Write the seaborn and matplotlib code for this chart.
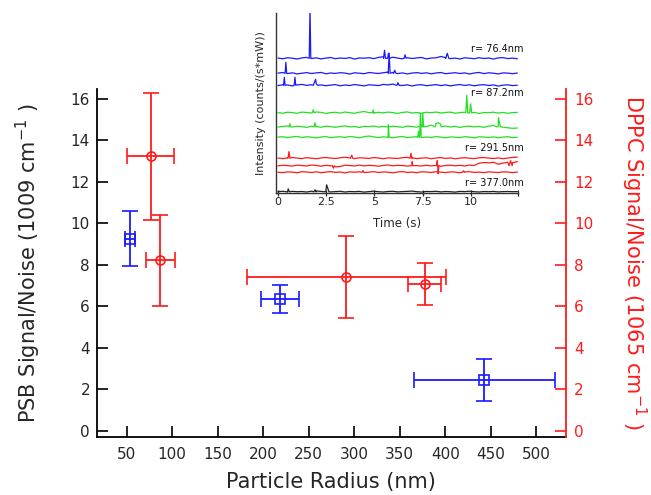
import numpy as np
import pandas as pd
import matplotlib
matplotlib.use("Agg")
import matplotlib.pyplot as plt
import seaborn as sns

# ---------------- main plot data ----------------
psb_radius = [53.7, 218.7, 443.0]
psb_radius_err = [5.0, 21.0, 77.5]
psb_sn = [9.25, 6.34, 2.43]
psb_sn_err = [1.33, 0.68, 1.01]

dppc_radius = [76.3, 87.0, 291.2, 377.2]
dppc_radius_err = [26.0, 16.0, 109.0, 18.0]
dppc_sn = [13.22, 8.20, 7.40, 7.06]
dppc_sn_err = [3.07, 2.18, 1.97, 1.00]

x_ticks = [50, 100, 150, 200, 250, 300, 350, 400, 450, 500]
y_ticks = [0, 2, 4, 6, 8, 10, 12, 14, 16]

# ---------------- inset trace data ----------------
trace_names = ["b1", "b2", "b3", "g1", "g2", "g3", "r1", "r2", "r3", "k"]
trace_colors = ["#1a1aff", "#1a1aff", "#1a1aff", "#22e022", "#22e022", "#22e022",
                "#ff1a1a", "#ff1a1a", "#ff1a1a", "#222222"]
trace_offsets = [135.0, 120.0, 108.0, 80.5, 66.5, 56.0, 35.0, 27.6, 21.0, 1.5]

noise_b1 = [0.3, -0.5, 0.6, 0.1, -0.7, 0.4, 0.9, -0.2, 0.5, -0.6, 0.2, 0.8, -0.4, 0.3, -0.1, 0.7, -0.8, 0.4,
            0.1, 0.6, -0.3, 0.9, 1.6, 2.2, 1.1, 0.2, -0.5, 0.6, -0.2, 0.4, 0.8, -0.6, 0.3, 0.5, 1.8, 0.7,
            -0.3, 0.2, -0.7, 0.5, 0.1, -0.4, 0.6, -0.2, 0.3, -0.8, 0.4, 0.7, -0.3, 0.2, -0.5]
noise_b2 = [0.2, 0.8, -0.3, 0.5, -0.6, 0.1, 0.7, -0.2, 0.4, 0.9, -0.5, 0.3, -0.1, 0.6, 0.2, -0.7, 0.5, 0.1,
            -0.4, 0.8, 0.3, -0.2, 0.6, 1.2, 0.9, -0.3, 0.4, -0.6, 0.2, 0.7, -0.1, 0.5, -0.5, 0.3, 0.8, -0.4,
            0.1, 0.6, -0.2, 0.4, -0.7, 0.3, 0.9, -0.3, 0.5, 0.1, -0.6, 0.4, 0.2, -0.4, 0.3]
noise_b3 = [-0.2, 0.5, 0.3, -0.6, 0.4, 0.9, -0.1, 0.6, 1.5, 0.4, -0.4, 0.2, 0.7, -0.5, 0.3, -0.2, 0.8, 0.1,
            -0.6, 0.5, 0.2, -0.3, 0.9, 0.4, 1.3, 0.8, -0.2, 0.5, -0.7, 0.3, 0.6, -0.4, 0.1, 0.7, -0.3, 0.4,
            -0.6, 0.2, 0.8, -0.1, 0.5, -0.5, 0.3, 0.6, -0.2, 0.4, -0.8, 0.2, 0.5, -0.3, 0.1]
noise_g1 = [0.1, -0.4, 0.6, 0.2, -0.5, 0.7, 0.3, -0.2, 0.9, 0.4, -0.6, 0.2, 0.5, -0.3, 0.8, 0.1, -0.5, 0.6,
            1.2, 0.3, -0.4, 0.5, -0.1, 0.7, 0.2, -0.6, 0.4, 0.9, -0.2, 0.3, -0.5, 0.6, 0.1, 0.8, -0.3, 0.4,
            0.7, -0.4, 0.2, 0.6, -0.2, 0.5, -0.7, 0.3, 0.1, 0.6, -0.3, 0.4, -0.5, 0.2, 0.4]
noise_g2 = [-0.3, 0.4, 0.8, -0.2, 0.5, 0.1, -0.6, 0.7, 0.3, -0.4, 0.6, 0.2, -0.5, 0.4, 0.9, -0.1, 0.3, -0.7,
            0.5, 0.2, 0.8, -0.3, 0.4, -0.2, 0.6, 0.1, -0.5, 0.7, 0.3, -0.4, 0.9, 0.2, 1.6, 3.2, 2.6, 0.8,
            -0.2, 0.5, -0.6, 0.3, 0.7, -0.1, 0.4, -0.5, 0.6, 1.4, 0.5, -0.3, -1.0, -1.5, -1.2]
noise_g3 = [0.2, 0.6, -0.3, 0.4, 0.9, -0.2, 0.5, 0.1, -0.6, 0.3, 0.7, -0.4, 0.2, 0.5, -0.1, 0.8, 0.3, -0.5,
            0.6, 1.3, 0.4, -0.2, 0.5, 0.1, -0.6, 0.4, 0.8, -0.3, 0.2, 0.6, -0.4, 0.3, -0.1, 0.7, 0.2, -0.5,
            0.4, 0.1, -0.3, 0.6, 0.2, -0.6, 0.5, 0.3, -0.2, 0.4, -0.4, 0.2, 0.6, -0.3, 0.1]
noise_r1 = [0.3, -0.4, 0.5, 0.9, 0.2, -0.3, 0.6, 0.1, -0.5, 0.4, 0.8, 0.2, -0.2, 0.5, 1.1, 0.3, -0.4, 0.6,
            0.2, -0.1, 0.7, 0.3, -0.5, 0.4, 0.1, -0.2, 0.6, 1.0, 0.4, -0.3, 0.2, 0.5, -0.4, 0.3, 0.7, -0.1,
            0.4, -0.5, 0.2, 0.6, 0.1, -0.3, 0.5, 0.8, 0.2, -0.2, 0.4, -0.4, 0.3, 0.9, 1.2]
noise_r2 = [-0.2, 0.5, 0.1, -0.4, 0.6, 0.2, -0.3, 0.7, 0.3, -0.5, 0.4, -0.1, -1.2, -0.8, 0.5, 0.2, -0.3, 0.6,
            -0.2, 0.4, 0.1, -0.5, 0.3, 0.7, -0.1, 0.4, 0.2, -0.4, 0.6, 0.1, -0.3, 0.5, -0.2, 0.3, -0.6, 0.2,
            0.5, -0.1, 0.4, -0.3, 0.6, 0.2, 2.5, 3.2, 2.8, 3.5, 1.5, 2.6, 3.4, 3.0, 4.2]
noise_r3 = [0.1, -0.3, 0.4, 0.2, -0.5, 0.6, 0.3, -0.2, 0.5, -0.4, 0.2, 0.7, -0.1, 0.3, -0.6, 0.4, 0.1, 0.5,
            -0.3, 0.2, 0.6, -0.2, 0.4, 0.1, -0.5, 0.3, 0.7, -0.1, 0.2, -0.4, 0.5, 0.3, -0.2, 0.6, 0.1, -0.3,
            0.4, 0.2, -0.5, 0.3, 0.6, -0.1, 0.2, -0.4, 0.5, 0.1, -0.2, 0.4, 0.3, -0.3, 0.2]
noise_k = [0.2, 0.5, -0.3, 0.4, 0.1, 0.3, -0.2, 0.6, 0.8, 0.4, 0.3, -0.1, 0.2, 0.5, -0.2, 0.3, 0.1, 0.4,
           -0.3, 0.2, 0.6, 0.1, -0.2, 0.3, 0.5, -0.1, 0.2, 0.4, 0.7, 0.1, -0.2, 0.3, 0.2, 0.5, -0.1, 0.3,
           0.1, -0.3, 0.4, 0.2, 0.6, 0.1, -0.2, 0.3, 0.1, 0.4, -0.1, 0.2, 0.3, 0.1, 0.2]
trace_noise = [noise_b1, noise_b2, noise_b3, noise_g1, noise_g2, noise_g3,
               noise_r1, noise_r2, noise_r3, noise_k]

# spikes: (time s, height, half-width s)
spikes_b1 = [(1.66, 50.0, 0.04), (5.52, 8.0, 0.05), (5.72, 5.0, 0.05), (6.58, 3.5, 0.05), (8.77, 5.0, 0.08)]
spikes_b2 = [(0.41, 11.0, 0.04), (5.76, 20.0, 0.05), (6.05, 3.0, 0.06)]
spikes_b3 = [(0.33, 8.0, 0.04), (0.88, 8.0, 0.04), (1.95, 6.0, 0.12), (6.2, 2.5, 0.08)]
spikes_g1 = [(1.83, 3.0, 0.05), (4.94, 3.0, 0.05), (9.78, 17.5, 0.05), (9.98, 9.0, 0.05)]
spikes_g2 = [(0.62, 3.0, 0.05), (1.92, 4.0, 0.05), (7.50, 14.0, 0.04), (8.30, 4.0, 0.15), (11.42, 9.0, 0.10)]
spikes_g3 = [(5.72, 12.5, 0.04), (7.28, 6.0, 0.04), (7.38, 24.0, 0.04)]
spikes_r1 = [(0.57, 6.7, 0.05), (3.82, 3.0, 0.06), (6.89, 5.0, 0.05)]
spikes_r2 = [(2.87, -2.5, 0.05), (6.95, 4.0, 0.04), (8.25, 5.0, 0.03), (8.30, -8.0, 0.03), (12.05, 5.0, 0.08)]
spikes_r3 = [(4.4, 1.8, 0.05), (9.6, 1.5, 0.05)]
spikes_k = [(0.53, 3.0, 0.06), (1.92, 2.0, 0.06), (2.52, 7.0, 0.12)]
trace_spikes = [spikes_b1, spikes_b2, spikes_b3, spikes_g1, spikes_g2, spikes_g3,
                spikes_r1, spikes_r2, spikes_r3, spikes_k]

radius_labels = ["r= 76.4nm", "r= 87.2nm", "r= 291.5nm", "r= 377.0nm"]
radius_label_y = [144.0, 100.0, 45.0, 10.6]
inset_ticks = [0, 2.5, 5, 7.5, 10]

# ---------------- build inset long table ----------------
rows = []
for name, off, noise, spk in zip(trace_names, trace_offsets, trace_noise, trace_spikes):
    tt = list(np.linspace(0.0, 12.4, len(noise)))
    vv = [off + n for n in noise]
    for (ts, h, w) in spk:
        tt += [ts - w, ts, ts + w]
        vv += [off, off + h, off]
    order = np.argsort(tt, kind="stable")
    for i in order:
        rows.append({"trace": name, "t": tt[i], "v": vv[i]})
inset_df = pd.DataFrame(rows)

# ---------------- style ----------------
sns.set_theme(style="ticks")
plt.rcParams["font.family"] = ["DejaVu Sans"]
plt.rcParams["mathtext.fontset"] = "dejavusans"

fig = plt.figure(figsize=(6.51, 4.95), dpi=100)
ax = fig.add_axes([0.149, 0.1172, 0.7197, 0.703])
ax.set_xlim(17.5, 532)
ax.set_ylim(-0.31, 16.46)

blue = "#1a1aff"
red = "#ff1a1a"

ax.errorbar(psb_radius, psb_sn, xerr=psb_radius_err, yerr=psb_sn_err, fmt="s",
            mfc="none", mec=blue, ecolor=blue, ms=7, mew=1.2, capsize=5.5,
            elinewidth=1.3, capthick=1.3, zorder=3)

ax.set_xticks(x_ticks)
ax.set_yticks(y_ticks)
ax.tick_params(axis="both", direction="in", length=8, width=1.2, labelsize=11, color="black")
ax.tick_params(axis="x", pad=7)
ax.tick_params(axis="y", pad=5)
for s in ["top", "right"]:
    ax.spines[s].set_visible(False)
for s in ["left", "bottom"]:
    ax.spines[s].set_linewidth(1.3)
    ax.spines[s].set_color("black")

ax.set_xlabel("Particle Radius (nm)", fontsize=15)
ax.xaxis.set_label_coords(0.5, -0.10)
ax.set_ylabel("PSB Signal/Noise (1009 cm$^{\\mathregular{-1}}$ )", fontsize=15)
ax.yaxis.set_label_coords(-0.115, 0.5)

ax2 = ax.twinx()
ax2.set_ylim(-0.31, 16.46)
ax2.errorbar(dppc_radius, dppc_sn, xerr=dppc_radius_err, yerr=dppc_sn_err, fmt="o",
             mfc="none", mec=red, ecolor=red, ms=6.5, mew=1.2, capsize=5.5,
             elinewidth=1.3, capthick=1.3, zorder=3)
ax2.set_yticks(y_ticks)
ax2.tick_params(axis="y", direction="in", length=8, width=1.2, labelsize=11,
                colors=red, pad=6)
for s in ["top", "left", "bottom"]:
    ax2.spines[s].set_visible(False)
ax2.spines["right"].set_color(red)
ax2.spines["right"].set_linewidth(1.3)
ax2.set_ylabel("DPPC Signal/Noise (1065 cm$^{\\mathregular{-1}}$ )", fontsize=15,
               color=red, rotation=270, va="bottom")
ax2.yaxis.set_label_coords(1.115, 0.5)

# ---------------- inset ----------------
axi = fig.add_axes([0.424, 0.6095, 0.3722, 0.3636])
axi.set_facecolor("white")
palette = dict(zip(trace_names, trace_colors))
sns.lineplot(data=inset_df, x="t", y="v", hue="trace", palette=palette, sort=False,
             estimator=None, legend=False, linewidth=0.9, ax=axi)
axi.set_xlim(-0.1, 12.45)
axi.set_ylim(0, 180)
axi.set_xticks(inset_ticks + [12.45])
axi.set_xticklabels([str(v) for v in inset_ticks] + [""])
axi.set_yticks([])
axi.tick_params(axis="x", direction="inout", length=5, width=0.9, labelsize=8, pad=0.5)
for s in ["top", "right"]:
    axi.spines[s].set_visible(False)
for s in ["left", "bottom"]:
    axi.spines[s].set_linewidth(1.0)
    axi.spines[s].set_color("#333333")
axi.set_xlabel("Time (s)", fontsize=8.5)
axi.xaxis.set_label_coords(0.5, -0.13)
axi.set_ylabel("Intensity (counts/(s*mW))", fontsize=8)
axi.yaxis.set_label_coords(-0.04, 0.5)
for lab, yy in zip(radius_labels, radius_label_y):
    axi.text(12.72, yy, lab, fontsize=7, ha="right", va="center", color="#111111",
             clip_on=False)

fig.savefig("out.png", dpi=100)
